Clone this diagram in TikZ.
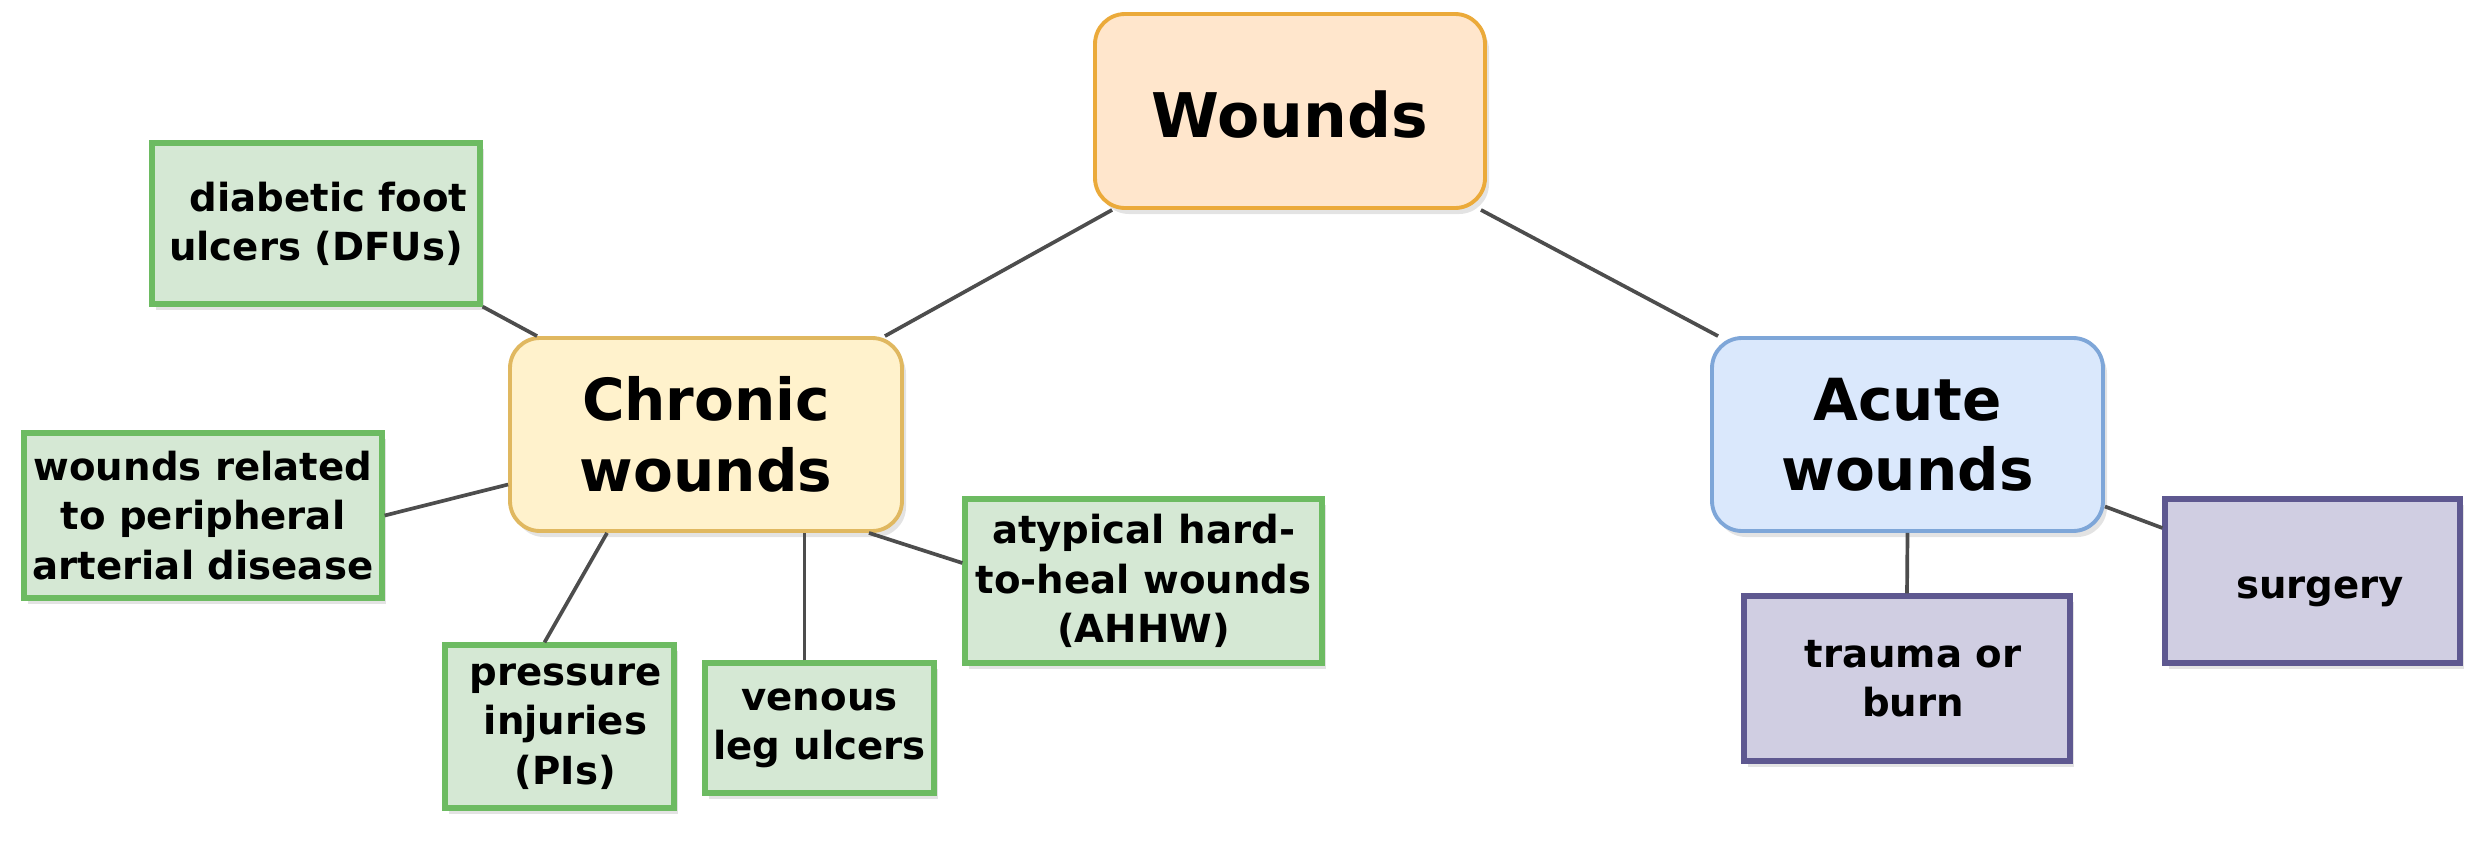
\documentclass[tikz,border=0pt]{standalone}
\usepackage{fontspec}
\setmainfont{DejaVu Sans}
\usetikzlibrary{calc,shadows}
\definecolor{orfill}{HTML}{FFE6CC}
\definecolor{ordraw}{HTML}{EBAA3A}
\definecolor{yefill}{HTML}{FFF2CC}
\definecolor{yedraw}{HTML}{E0B860}
\definecolor{blfill}{HTML}{DAE8FC}
\definecolor{bldraw}{HTML}{7EA6D8}
\definecolor{grfill}{HTML}{D5E8D4}
\definecolor{grdraw}{HTML}{6DBB62}
\definecolor{pufill}{HTML}{D0CEE2}
\definecolor{pudraw}{HTML}{5E5890}
\definecolor{linkc}{HTML}{4D4D4D}
\begin{document}
\begin{tikzpicture}[x=0.01cm,y=-0.01cm,
  sz/.style 2 args={minimum width=#1*0.01cm, minimum height=#2*0.01cm},
  basebox/.style={draw, align=center, inner sep=0pt,
    drop shadow={opacity=0.22, shadow xshift=0.04cm, shadow yshift=-0.06cm}},
  bigbox/.style={basebox, rounded corners=0.3cm, line width=1.1pt,
    font=\fontsize{16.5}{20}\selectfont\bfseries},
  smallbox/.style={basebox, line width=1.5pt,
    font=\fontsize{11}{14}\selectfont\bfseries},
  greenbox/.style={smallbox, fill=grfill, draw=grdraw},
  purplebox/.style={smallbox, fill=pufill, draw=pudraw},
  link/.style={draw=linkc, line width=1.05pt}
]
\useasboundingbox (0,0) rectangle (2485,845);

\node[bigbox, fill=orfill, draw=ordraw, sz={390}{194}, text height=15pt, text depth=0pt, font=\fontsize{17.5}{20}\selectfont\bfseries] (wounds) at (1290,111) {Wounds};
\node[bigbox, fill=yefill, draw=yedraw, sz={392}{193}] (chronic) at (706,434.5) {Chronic\\wounds};
\node[bigbox, fill=blfill, draw=bldraw, sz={391}{193}] (acute) at (1907.5,434.5) {Acute\\wounds};

\node[greenbox, sz={328}{161}] (dfu) at (316,223.5) {\hspace*{0.25cm}diabetic foot\\ulcers (DFUs)};
\node[greenbox, sz={358}{165}] (pad) at (203,515.5) {wounds related\\to peripheral\\arterial disease};
\node[greenbox, sz={229}{163}] (pi) at (559.5,726.5) {\hspace*{0.12cm}pressure\\\hspace*{0.12cm}injuries\\\hspace*{0.12cm}(PIs)};
\node[greenbox, sz={229}{130}] (venous) at (819.5,728) {venous\\leg ulcers};
\node[greenbox, sz={357}{164}] (atyp) at (1143.5,581) {atypical hard-\\to-heal wounds\\(AHHW)};

\node[purplebox, sz={326}{165}] (trauma) at (1907,678.5) {\hspace*{0.12cm}trauma or\\\hspace*{0.12cm}burn};
\node[purplebox, sz={295}{164}, text height=10pt, text depth=0pt] (surgery) at (2312.5,581) {\hspace*{0.15cm}surgery};

\coordinate (vtop) at ($(venous.north)+(-15,0)$);
\draw[link] ($(wounds.south west)+(19,0)$) -- ($(chronic.north east)+(-19,0)$);
\draw[link] ($(wounds.south east)+(-6,0)$) -- ($(acute.north west)+(8,0)$);
\draw[link] (dfu.south east) -- ($(chronic.north west)+(29,0)$);
\draw[link] (pad.east) -- ($(chronic.west)+(0,50)$);
\draw[link] ($(pi.north)+(-15,0)$) -- ($(chronic.south west)+(99,0)$);
\draw[link] (vtop) -- (vtop |- chronic.south);
\draw[link] ($(atyp.west)+(0,-18)$) -- ($(chronic.south east)+(-35,0)$);
\draw[link] (trauma.north) -- (acute.south);
\draw[link] ($(surgery.west)+(0,-53)$) -- ($(acute.east)+(0,72)$);
\end{tikzpicture}
\end{document}
